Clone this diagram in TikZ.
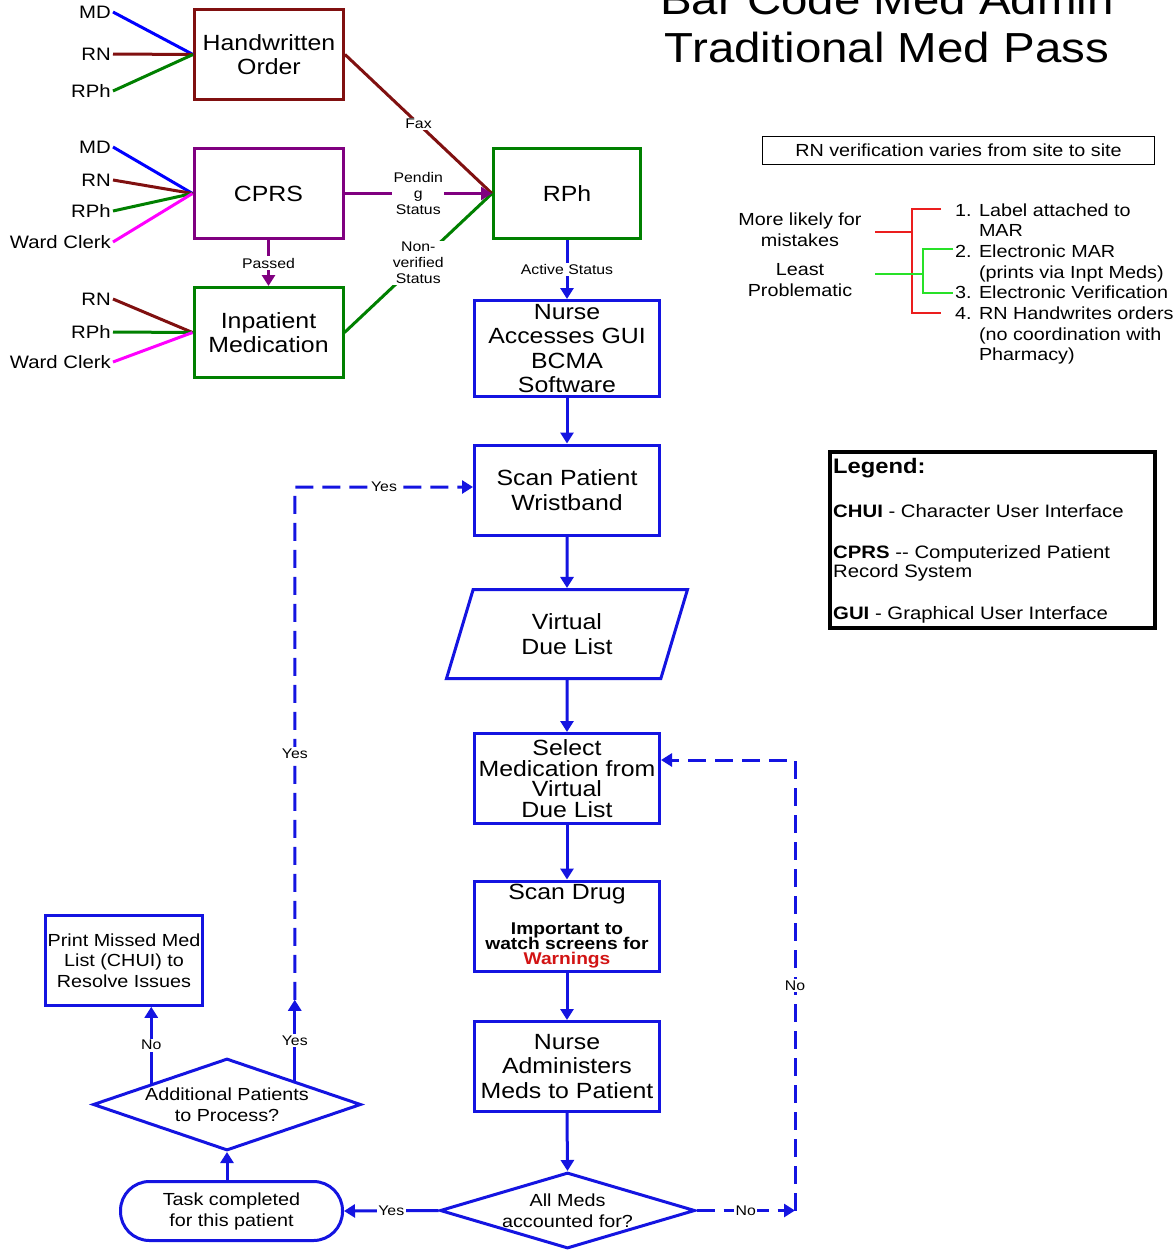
\documentclass[tikz,border=0pt]{standalone}
\usepackage{fontspec}
\setmainfont{Liberation Sans}[FakeStretch=1.13]
\usetikzlibrary{arrows.meta,shapes.geometric,positioning}
\definecolor{flowblue}{RGB}{20,20,225}
\definecolor{maroon}{RGB}{128,16,16}
\definecolor{ordpurple}{RGB}{128,0,128}
\definecolor{ordgreen}{RGB}{0,128,0}
\definecolor{clerkpink}{RGB}{255,0,255}
\definecolor{mdblue}{RGB}{0,0,255}
\definecolor{brred}{RGB}{235,30,30}
\definecolor{brgreen}{RGB}{40,225,40}
\definecolor{warnred}{RGB}{210,20,20}
\newcommand{\fs}[2]{\fontsize{#1}{#2}\selectfont\lineskiplimit=-50pt\relax}
\newcommand{\warnline}[1]{{\bfseries\fontsize{17}{15}\selectfont #1}}

\begin{document}
\begin{tikzpicture}[x=1pt,y=-1pt,
  ordbox/.style={draw,line width=3pt,minimum width=149pt,minimum height=90pt,align=center,inner sep=1pt,font=\fs{22}{24.5}},
  stepbox/.style={ordbox,draw=flowblue,minimum width=185pt},
  decision/.style={diamond,draw=flowblue,line width=3pt,inner sep=0pt},
  src/.style={anchor=east,inner sep=2pt,font=\fs{18}{20}},
  feed/.style={line width=3pt},
  lbl/.style={fill=white,text=black,inner sep=1.5pt,align=center,font=\fs{14}{16}},
  flow/.style={draw=flowblue,line width=3pt,-{Triangle[length=11pt,width=13pt]}},
  dflow/.style={flow,dash pattern=on 18pt off 9pt},
  note/.style={font=\fs{17.5}{20.7},inner sep=0pt}]
\useasboundingbox (0,0) rectangle (1176,1254);
\clip (0,0) rectangle (1176,1254);
\fill[white] (0,0) rectangle (1176,1254);

\node[anchor=south,inner sep=0pt,align=center,font=\fs{42}{48}] (title) at (887,63) {Bar Code Med Admin\\Traditional Med Pass};

\node[ordbox,draw=maroon] (ho) at (269,54.5) {Handwritten\\Order};
\node[ordbox,draw=ordpurple] (cprs) at (268.5,193.5) {CPRS};
\node[ordbox,draw=ordgreen] (inpt) at (268.5,332.5) {Inpatient\\Medication};
\node[ordbox,draw=ordgreen,minimum width=147pt] (rph) at (567,193.5) {RPh};

\node[src] (hmd) at (113,12) {MD};
\node[src] (hrn) at (113,54) {RN};
\node[src] (hrph) at (113,91) {RPh};
\draw[feed,mdblue] (hmd.east) -- (ho.west);
\draw[feed,maroon] (hrn.east) -- (ho.west);
\draw[feed,ordgreen] (hrph.east) -- (ho.west);

\node[src] (cmd) at (113,147) {MD};
\node[src] (crn) at (113,180) {RN};
\node[src] (crph) at (113,211) {RPh};
\node[src] (cwc) at (113,242) {Ward Clerk};
\draw[feed,mdblue] (cmd.east) -- (cprs.west);
\draw[feed,maroon] (crn.east) -- (cprs.west);
\draw[feed,ordgreen] (crph.east) -- (cprs.west);
\draw[feed,clerkpink] (cwc.east) -- (cprs.west);

\node[src] (irn) at (113,299) {RN};
\node[src] (irph) at (113,332) {RPh};
\node[src] (iwc) at (113,362) {Ward Clerk};
\draw[feed,maroon] (irn.east) -- (inpt.west);
\draw[feed,ordgreen] (irph.east) -- (inpt.west);
\draw[feed,clerkpink] (iwc.east) -- (inpt.west);

\draw[feed,maroon] (ho.east) -- node[lbl]{Fax} (rph.west);
\draw[feed,ordgreen] (inpt.east) -- node[lbl]{Non-\\verified\\Status} (rph.west);
\draw[feed,ordpurple,-{Triangle[length=11pt,width=13pt]}] (cprs.east) -- node[lbl]{Pendin\\g\\Status} (rph.west);
\draw[feed,ordpurple,-{Triangle[length=11pt,width=13pt]}] (cprs.south) -- node[lbl]{Passed} (inpt.north);

\node[stepbox,minimum height=96pt] (nurse) at (567,348.5) {Nurse\\Accesses GUI\\BCMA\\Software};
\node[stepbox] (scanpt) at (567,490) {Scan Patient\\Wristband};
\node[stepbox,trapezium,trapezium left angle=58,trapezium right angle=122,trapezium stretches body,minimum width=241pt,minimum height=89pt] (vdl) at (567,634) {Virtual\\Due List};
\node[stepbox,font=\fs{22}{20.7}] (select) at (567,778.5) {Select\\Medication from\\Virtual\\Due List};
\node[stepbox,font=\fs{22}{15}] (scandrug) at (567,926) {Scan Drug\\[20pt]\warnline{Important to}\\\warnline{watch screens for}\\\warnline{\textcolor{warnred}{Warnings}}};
\node[stepbox] (admin) at (567,1066.5) {Nurse\\Administers\\Meds to Patient};
\node[decision,minimum width=255pt,minimum height=76pt,label={[align=center,font=\fs{17.5}{21}]center:All Meds\\accounted for?}] (allmeds) at (567.5,1210.5) {};
\node[ordbox,draw=flowblue,rounded corners=29pt,minimum width=222pt,minimum height=59pt,font=\fs{17.5}{21}] (task) at (231.5,1211) {Task completed\\for this patient};
\node[decision,minimum width=268pt,minimum height=92pt,label={[align=center,font=\fs{17.5}{21}]center:Additional Patients\\to Process?}] (addl) at (227,1104.5) {};
\node[ordbox,draw=flowblue,line width=2.5pt,minimum width=157pt,minimum height=90pt,font=\fs{17.5}{20.5}] (missed) at (124,960.5) {Print Missed Med\\List (CHUI) to\\Resolve Issues};

\draw[flow] (rph.south) -- node[lbl]{Active Status} (nurse.north);
\draw[flow] (nurse.south) -- (scanpt.north);
\draw[flow] (scanpt.south) -- (vdl.north);
\draw[flow] (vdl.south) -- (select.north);
\draw[flow] (select.south) -- (scandrug.north);
\draw[flow] (scandrug.south) -- (admin.north);
\draw[flow] (admin.south) -- (allmeds.north);
\draw[flow] (allmeds.west) -- node[lbl]{Yes} (task.east);
\coordinate (noCorner) at (795,1210.5);
\coordinate (noTop) at (795,760);
\draw[dflow] (allmeds.east) -- node[lbl]{No} (noCorner);
\draw[dflow] (noCorner) -- node[lbl]{No} (noTop) -- (noTop -| select.east);
\draw[flow] (addl.south |- task.north) -- (addl.south);
\coordinate (noBase) at ([shift={(-8,2.8)}]addl.north west);
\draw[flow] (noBase) -- node[lbl]{No} (noBase |- missed.south);
\path (addl.north east) ++(0,-81) coordinate (yesMid);
\coordinate (yesTop) at (295,487);
\draw[flow] (addl.north east) -- node[lbl]{Yes} (yesMid);
\draw[dflow] (yesMid) -- node[lbl,pos=.48]{Yes} (yesTop) -- node[lbl]{Yes} (yesTop -| scanpt.west);

\node[draw,line width=1.5pt,minimum width=392pt,minimum height=28pt,inner sep=0pt,font=\fs{17.5}{20}] (rnver) at (958.5,150.5) {RN verification varies from site to site};
\node[note,align=center] (likely) at (800,230) {More likely for\\mistakes};
\node[note,align=center] (least) at (800,280) {Least\\Problematic};
\node[note,align=left,anchor=north west] (items) at (955,203.2) {1. Label attached to\\\hphantom{1. }MAR\\2. Electronic MAR\\\hphantom{2. }(prints via Inpt Meds)\\3. Electronic Verification\\4. RN Handwrites orders\\\hphantom{4. }(no coordination with\\\hphantom{4. }Pharmacy)};
\draw[brred,line width=2pt] (875,232) -- (912,232);
\draw[brred,line width=2pt] (941,209) -- (912,209) -- (912,313) -- (941,313);
\draw[brgreen,line width=2pt] (875,274) -- (923,274);
\draw[brgreen,line width=2pt] (953,249) -- (923,249) -- (923,293) -- (953,293);

\node[draw,line width=4pt,minimum width=325pt,minimum height=176pt] (legend) at (992.5,540) {};
\node[anchor=base west,inner sep=0pt,font=\bfseries\fs{21}{24}] (legtitle) at (833,473) {Legend:};
\node[anchor=base west,inner sep=0pt,font=\fs{18}{20}] (legchui) at (833,517) {\textbf{CHUI} - Character User Interface};
\node[anchor=north west,inner sep=0pt,align=left,font=\fs{18}{19}] (legcprs) at (833,545) {\textbf{CPRS} -{}- Computerized Patient\\Record System};
\node[anchor=base west,inner sep=0pt,font=\fs{18}{20}] (leggui) at (833,619) {\textbf{GUI} - Graphical User Interface};
\end{tikzpicture}
\end{document}
